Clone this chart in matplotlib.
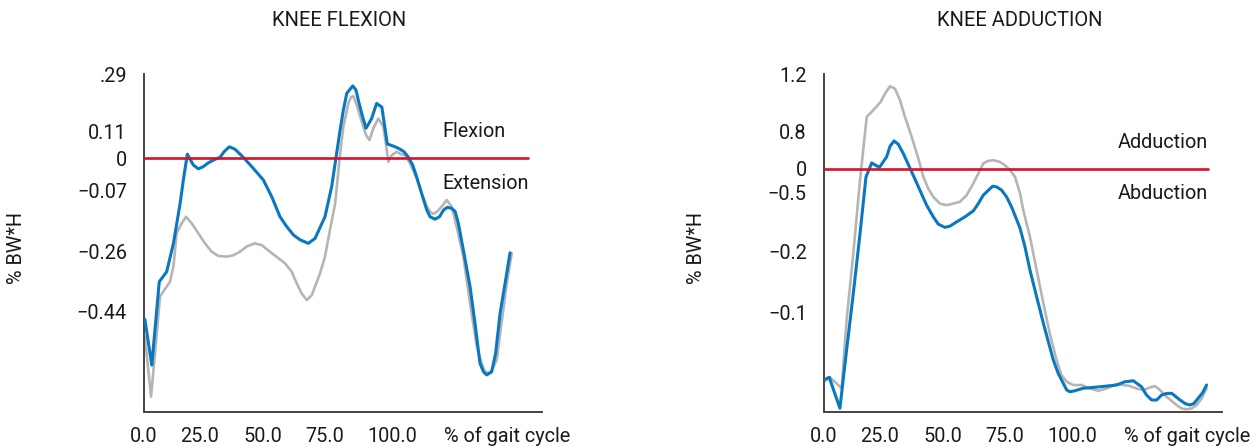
import matplotlib.pyplot as plt

plt.rcParams["font.family"] = ["Roboto", "DejaVu Sans"]

# gait cycle samples (% of gait cycle) and moments for the knee flexion panel
flex_blue_x = [0.5, 3.3, 6.3, 9.3, 12.0, 14.7, 16.0, 17.6, 20.0, 22.0, 24.0, 26.0,
               28.7, 30.8, 32.4, 34.5, 36.8, 40.1, 44.2, 48.2, 51.6, 54.9, 57.6,
               60.3, 63.0, 66.3, 69.0, 73.0, 75.7, 79.1, 80.4, 81.8, 84.2, 85.5,
               86.4, 87.8, 89.5, 90.7, 91.8, 92.9, 93.8, 95.9, 98.1, 100.5, 102.5,
               104.8, 106.6, 108.3, 109.9, 111.9, 114.0, 115.3, 117.3, 119.1,
               120.7, 122.3, 124.0, 125.4, 126.7, 128.7, 131.4, 133.4, 135.4,
               136.8, 138.1, 140.1, 141.7, 143.5, 145.5, 147.5]
flex_blue_y = [-0.460, -0.591, -0.353, -0.324, -0.243, -0.129, -0.062, 0.012,
               -0.019, -0.030, -0.024, -0.013, -0.003, 0.003, 0.019, 0.033, 0.026,
               0.003, -0.029, -0.062, -0.110, -0.167, -0.195, -0.219, -0.233,
               -0.243, -0.229, -0.167, -0.081, 0.081, 0.138, 0.186, 0.207, 0.195,
               0.167, 0.128, 0.086, 0.100, 0.114, 0.138, 0.157, 0.146, 0.041,
               0.035, 0.029, 0.019, 0.003, -0.019, -0.053, -0.100, -0.148, -0.167,
               -0.174, -0.167, -0.148, -0.140, -0.143, -0.152, -0.186, -0.262,
               -0.367, -0.472, -0.586, -0.610, -0.619, -0.610, -0.557, -0.443,
               -0.357, -0.270]
flex_gray_x = [0.5, 3.0, 4.6, 6.6, 10.6, 12.0, 13.3, 15.3, 17.1, 19.4, 22.0, 24.7,
               27.4, 30.1, 33.5, 36.1, 38.8, 41.5, 44.8, 47.5, 50.9, 56.9, 59.6,
               61.6, 63.6, 65.7, 67.7, 71.0, 73.0, 75.0, 77.1, 79.1, 80.4, 82.4,
               83.4, 84.4, 85.8, 87.8, 89.5, 90.9, 92.5, 94.5, 96.5, 97.6, 98.5,
               99.9, 101.9, 103.5, 105.2, 107.2, 109.9, 111.9, 114.0, 115.3,
               116.6, 118.0, 120.0, 122.0, 124.0, 126.0, 128.7, 131.4, 134.1,
               136.1, 137.4, 139.5, 142.2, 143.5, 144.8, 146.2, 148.2]
flex_gray_y = [-0.510, -0.681, -0.557, -0.395, -0.353, -0.310, -0.214, -0.186,
               -0.167, -0.186, -0.214, -0.243, -0.267, -0.279, -0.281, -0.277,
               -0.267, -0.252, -0.243, -0.248, -0.267, -0.300, -0.324, -0.357,
               -0.386, -0.405, -0.391, -0.329, -0.281, -0.205, -0.129, 0.014,
               0.090, 0.157, 0.174, 0.178, 0.152, 0.105, 0.067, 0.052, 0.086,
               0.114, 0.090, 0.038, -0.010, 0.009, 0.019, 0.012, 0.009, -0.014,
               -0.057, -0.100, -0.138, -0.152, -0.159, -0.153, -0.138, -0.119,
               -0.138, -0.195, -0.281, -0.414, -0.538, -0.586, -0.610, -0.614,
               -0.576, -0.500, -0.433, -0.357, -0.271]
flex_tick_pos = [0.241, 0.078, 0.0, -0.093, -0.265, -0.439]
flex_tick_labels = [".29", "0.11", "0", "\u22120.07", "\u22120.26", "\u22120.44"]

# knee adduction panel
add_blue_x = [0.2, 2.3, 6.6, 9.3, 12.0, 14.7, 17.1, 19.4, 22.5, 25.4, 26.8, 28.4,
              30.1, 32.1, 35.5, 38.8, 41.5, 44.2, 46.2, 48.9, 50.9, 53.6, 56.9,
              60.3, 62.3, 64.3, 68.1, 69.7, 71.7, 73.7, 75.7, 79.1, 81.1, 83.1,
              85.8, 88.5, 92.5, 94.5, 96.5, 97.9, 99.2, 101.2, 104.5, 111.3,
              118.0, 121.3, 124.7, 128.0, 130.0, 132.1, 134.1, 136.1, 138.1,
              140.1, 143.5, 145.5, 147.5, 149.1, 150.8, 152.6, 154.2]
add_blue_y = [-0.845, -0.834, -0.958, -0.725, -0.498, -0.259, -0.032, 0.024,
              0.006, 0.048, 0.091, 0.112, 0.099, 0.062, -0.012, -0.085, -0.145,
              -0.192, -0.221, -0.234, -0.229, -0.212, -0.192, -0.168, -0.139,
              -0.105, -0.069, -0.072, -0.085, -0.112, -0.152, -0.237, -0.312,
              -0.405, -0.512, -0.618, -0.765, -0.819, -0.858, -0.885, -0.892,
              -0.888, -0.878, -0.872, -0.865, -0.852, -0.848, -0.872, -0.905,
              -0.925, -0.925, -0.905, -0.899, -0.898, -0.925, -0.939, -0.945,
              -0.939, -0.918, -0.896, -0.865]
add_gray_x = [0.2, 2.6, 7.3, 9.3, 12.0, 14.7, 17.4, 20.0, 23.0, 24.7, 26.8, 28.8,
              30.8, 32.8, 35.5, 38.2, 40.2, 42.2, 44.2, 46.9, 49.6, 54.9, 57.6,
              60.3, 62.3, 64.3, 66.3, 68.3, 71.0, 73.0, 75.1, 77.1, 79.1, 80.4,
              83.1, 85.8, 88.5, 91.1, 93.8, 95.8, 97.9, 100.5, 103.9, 107.2,
              110.6, 114.0, 118.0, 123.3, 126.0, 128.7, 131.4, 133.4, 135.4,
              138.1, 142.1, 144.1, 146.2, 148.2, 150.2, 152.2, 154.2]
add_gray_y = [-0.852, -0.834, -0.878, -0.605, -0.338, -0.045, 0.208, 0.235, 0.268,
              0.301, 0.331, 0.321, 0.275, 0.208, 0.128, 0.041, -0.032, -0.079,
              -0.112, -0.139, -0.145, -0.132, -0.105, -0.058, -0.019, 0.022,
              0.032, 0.035, 0.028, 0.015, -0.005, -0.032, -0.098, -0.165, -0.272,
              -0.405, -0.538, -0.659, -0.765, -0.825, -0.852, -0.865, -0.865,
              -0.879, -0.888, -0.879, -0.861, -0.869, -0.879, -0.885, -0.875,
              -0.869, -0.885, -0.912, -0.945, -0.959, -0.962, -0.959, -0.945,
              -0.919, -0.878]
add_tick_pos = [0.38, 0.151, 0.0, -0.093, -0.329, -0.573]
add_tick_labels = ["1.2", "0.8", "0", "\u22120.5", "\u22120.2", "\u22120.1"]

x_tick_pos = [0, 22.5, 48, 73, 100, 146.5]
x_tick_labels = ["0.0", "25.0", "50.0", "75.0", "100.0", "% of gait cycle"]

BLUE = "#0a78c0"
GRAY = "#b5b5b5"
RED = "#d3122c"
INK = "#1a1a1a"

W, H = 1258, 447
fig = plt.figure(figsize=(W / 100, H / 100), dpi=100)

panels = [
    dict(left=143.6, title="KNEE FLEXION", bx=flex_blue_x, by=flex_blue_y,
         gx=flex_gray_x, gy=flex_gray_y, ylim=(-0.725, 0.241),
         yt=flex_tick_pos, yl=flex_tick_labels, above="Flexion", below="Extension",
         tx=120.1, ty=(0.078, -0.071)),
    dict(left=823.5, title="KNEE ADDUCTION", bx=add_blue_x, by=add_blue_y,
         gx=add_gray_x, gy=add_gray_y, ylim=(-0.973, 0.379),
         yt=add_tick_pos, yl=add_tick_labels, above="Adduction", below="Abduction",
         tx=118.5, ty=(0.107, -0.097)),
]

for p in panels:
    ax = fig.add_axes([p["left"] / W, (H - 412) / H, 398.5 / W, 338 / H])
    ax.plot(p["gx"], p["gy"], color=GRAY, lw=1.9, solid_joinstyle="round",
            solid_capstyle="round", zorder=2)
    ax.plot(p["bx"], p["by"], color=BLUE, lw=2.2, solid_joinstyle="round",
            solid_capstyle="round", zorder=3)
    ax.hlines(0, 0, 155, color=RED, lw=1.9, zorder=4)

    ax.set_xlim(0, 160.4)
    ax.set_ylim(*p["ylim"])
    ax.set_xticks(x_tick_pos)
    ax.set_xticklabels(x_tick_labels)
    ax.set_yticks(p["yt"])
    ax.set_yticklabels(p["yl"])
    ax.tick_params(axis="both", length=0, labelsize=14.3, colors=INK)
    ax.tick_params(axis="x", pad=10.5)
    ax.tick_params(axis="y", pad=12)

    for side in ["top", "right"]:
        ax.spines[side].set_visible(False)
    for side in ["left", "bottom"]:
        ax.spines[side].set_color("#444444")
        ax.spines[side].set_linewidth(1.4)

    ax.text(p["tx"], p["ty"][0], p["above"], fontsize=14.3, color=INK, va="center")
    ax.text(p["tx"], p["ty"][1], p["below"], fontsize=14.3, color=INK, va="center")

    fig.text((p["left"] + 196) / W, 1 - 20 / H, p["title"], fontsize=14.5,
             color=INK, ha="center", va="center")
    fig.text((p["left"] - 127) / W, 1 - 248 / H, "% BW*H", fontsize=14.3,
             color=INK, rotation=90, ha="center", va="center")

fig.savefig("out.png", dpi=100)
